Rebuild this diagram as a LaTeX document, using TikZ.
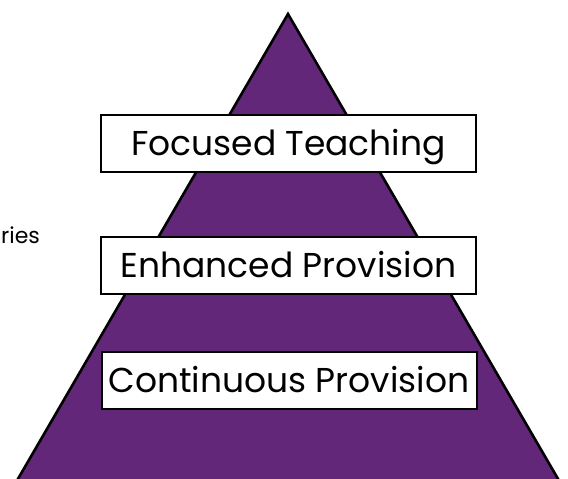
\documentclass[tikz,border=0pt]{standalone}
\usepackage{fontspec}
\setmainfont{Poppins}
\definecolor{pyr}{RGB}{99,39,122}
\begin{document}
\begin{tikzpicture}[x=1pt,y=-1pt,
  level/.style={draw=black, line width=2pt, fill=white,
    minimum width=375pt, minimum height=57pt, inner sep=0pt,
    text height=24pt, text depth=0pt,
    font=\fontsize{34.5}{40}\selectfont},
  pyramid/.style={fill=pyr, draw=black, line width=2.6pt, line join=miter},
  sidetext/.style={font=\fontsize{22}{26}\selectfont, inner sep=0pt}]
\useasboundingbox (0,0) rectangle (568,479);
\coordinate (apex) at (288,14);
\coordinate (bl) at (15,484);
\coordinate (br) at (561,484);
\filldraw[pyramid] (apex) -- (br) -- (bl) -- cycle;
\node[level] (ft) at (288.5,143.5) {Focused Teaching};
\node[level] (ep) at (288.5,265) {Enhanced Provision};
\node[level] (cp) at (289,380.5) {Continuous Provision};
\node[sidetext, anchor=base west] (ries) at (1,243) {ries};
\end{tikzpicture}
\end{document}
